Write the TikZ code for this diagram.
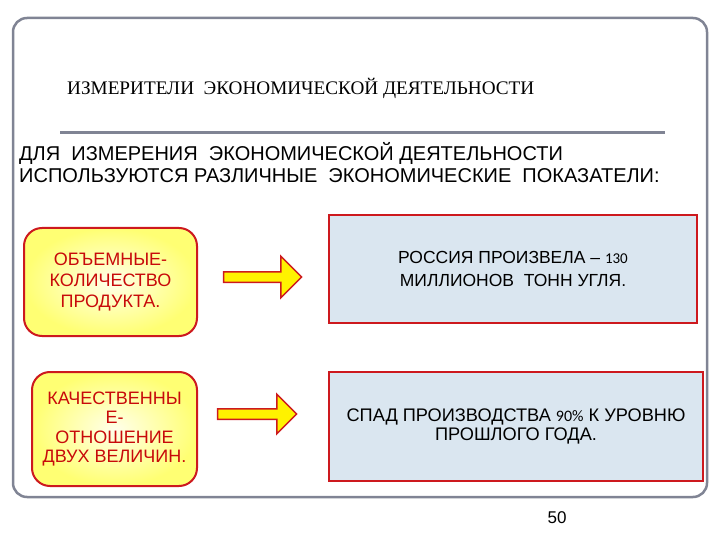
\documentclass[tikz,border=0pt]{standalone}
\usepackage{fontspec}
\setmainfont{Liberation Sans}
\newfontfamily\titlefont{Liberation Serif}
\newfontfamily\numfont{Carlito}
\usetikzlibrary{shapes.arrows}

\definecolor{framegray}{RGB}{128,132,148}
\definecolor{boxred}{RGB}{205,25,30}
\definecolor{textred}{RGB}{200,10,10}
\definecolor{iceblue}{RGB}{218,230,240}

\begin{document}
\begin{tikzpicture}[x=1pt,y=-1pt,
  kind/.style={draw=boxred, line width=2pt, rounded corners=18pt, inner color=yellow!8, outer color=yellow!55, text=textred, align=center, inner sep=0pt},
  fact/.style={draw=boxred, line width=2.5pt, fill=iceblue, align=center, inner sep=0pt},
  pointer/.style={single arrow, draw=boxred, line width=1.5pt, fill=yellow, minimum width=40pt, single arrow head extend=15.5pt, inner xsep=0pt, inner ysep=4.5pt}]
  \useasboundingbox (0,0) rectangle (720,540);
  \draw[framegray, line width=2.5pt, rounded corners=14pt] (13,18) rectangle (707,497);
  % heading
  \node[anchor=base west, inner sep=0pt, font=\titlefont\fontsize{19.2}{22}\selectfont] (title) at (67,95) {ИЗМЕРИТЕЛИ \ ЭКОНОМИЧЕСКОЙ ДЕЯТЕЛЬНОСТИ};
  \coordinate (ruleA) at (60,133);
  \coordinate (ruleB) at (665,133);
  \draw[framegray, line width=3pt] (ruleA) -- (ruleB);
  \node[anchor=base west, inner sep=0pt, font=\fontsize{20}{22}\selectfont] (sub1) at (19,161) {ДЛЯ \ ИЗМЕРЕНИЯ \ ЭКОНОМИЧЕСКОЙ ДЕЯТЕЛЬНОСТИ};
  \node[anchor=base west, inner sep=0pt, font=\fontsize{20}{22}\selectfont] (sub2) at (19,183) {ИСПОЛЬЗУЮТСЯ РАЗЛИЧНЫЕ \ ЭКОНОМИЧЕСКИЕ \ ПОКАЗАТЕЛИ:};
  % left column
  \node[kind, minimum width=173pt, minimum height=108pt, font=\fontsize{18}{21}\selectfont] (volume) at (110.5,282) {ОБЪЕМНЫЕ-\\КОЛИЧЕСТВО\\ПРОДУКТА.};
  \node[kind, minimum width=165pt, minimum height=114pt, font=\fontsize{18}{19.5}\selectfont] (quality) at (114.5,429) {КАЧЕСТВЕННЫ\\Е-\\ОТНОШЕНИЕ\\ДВУХ ВЕЛИЧИН.};
  % arrows
  \node[pointer, minimum height=78pt] (arrA) at (260,277) {};
  \node[pointer, minimum height=79pt, minimum width=38pt, single arrow head extend=14.5pt] (arrB) at (254.5,414) {};
  % right column
  \node[fact, minimum width=368pt, minimum height=108pt, font=\fontsize{17.5}{23}\selectfont] (coal) at (513,269) {РОССИЯ ПРОИЗВЕЛА -- {\numfont\fontsize{15}{15}\selectfont 130}\\МИЛЛИОНОВ \ ТОНН УГЛЯ.};
  \node[fact, minimum width=374pt, minimum height=109pt, font=\fontsize{18.2}{19}\selectfont] (drop) at (516,426.5) {СПАД ПРОИЗВОДСТВА {\numfont\fontsize{16}{16}\selectfont 90\%} К УРОВНЮ\\ПРОШЛОГО ГОДА.};
  \node[anchor=base, inner sep=0pt, font=\fontsize{17}{17}\selectfont] (page) at (557,523) {50};
\end{tikzpicture}
\end{document}
